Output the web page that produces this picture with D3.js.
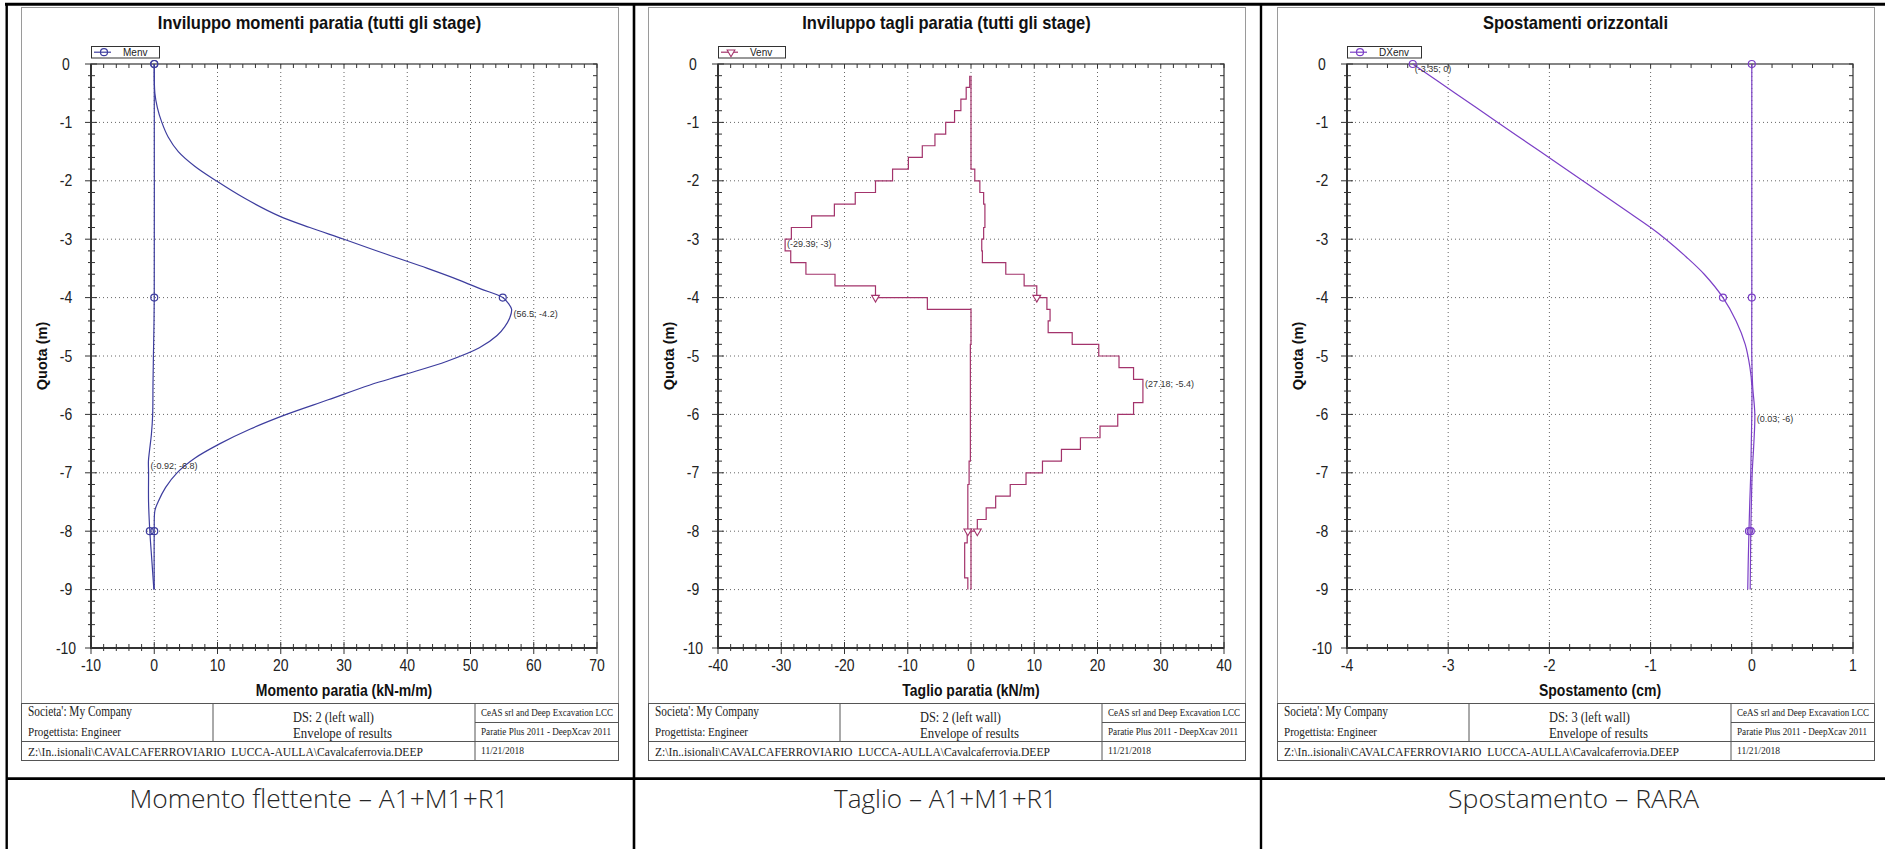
<!DOCTYPE html>
<html>
<head>
<meta charset="utf-8">
<script src="https://cdn.jsdelivr.net/npm/d3@7"></script>
<style>
    body { margin: 0; background: #fff; }
    svg { display: block; }
    .title { font: bold 16.5px "Liberation Sans", Arial, sans-serif; fill: #111; }
    .tick { font: 14px "Liberation Sans", Arial, sans-serif; fill: #222; }
    .axtitle { font: bold 14px "Liberation Sans", Arial, sans-serif; fill: #111; }
    .legend { font: 10px "Liberation Sans", Arial, sans-serif; fill: #222; }
    .dlabel { font: 9px "Liberation Sans", Arial, sans-serif; fill: #333; }
    .foot { font-family: "Liberation Serif", "Times New Roman", serif; fill: #222; }
    .caption { font-family: "Open Sans", sans-serif; font-weight: 300; font-size: 26px; fill: #262626; }
</style>
</head>
<body>
<svg id="chart" width="1885" height="849"></svg>
<script>
// momenti paratia (kN-m/m) - inviluppo max / min
const mMaxDepth = [0, -0.5, -0.75, -1.0, -1.25, -1.5, -1.75, -2.0, -2.3, -2.6, -2.8, -3.0, -3.25, -3.5, -3.7, -3.85, -4.0, -4.1, -4.2, -4.35, -4.5, -4.65, -4.86, -5.09, -5.32, -5.5, -5.75, -6.0, -6.25, -6.5, -6.75, -7.0, -7.25, -7.5, -7.65, -8.0, -9.0];
const mMaxVal = [0, 0.1, 0.5, 1.2, 2.2, 3.8, 6.4, 9.8, 14.3, 19.7, 24.6, 30.0, 36.5, 43.2, 48.2, 51.6, 55.1, 56.0, 56.5, 56.2, 55.4, 54.2, 51.4, 46.3, 39.5, 34.0, 27.5, 20.9, 15.2, 10.4, 6.4, 3.6, 1.8, 0.6, 0.1, 0, 0];
const mMinDepth = [0, -4.0, -4.5, -5.0, -5.5, -6.0, -6.34, -6.63, -6.8, -7.0, -7.5, -8.0, -8.5, -9.0];
const mMinVal = [0, 0, -0.05, -0.13, -0.2, -0.25, -0.45, -0.76, -0.92, -0.9, -0.9, -0.7, -0.38, -0.06];
const mLabels = [[56.5, -4.2], [-0.92, -6.8]];

// tagli paratia (kN/m) - valori costanti per tratti di 0.2 m
const vDepth = [-0.2, -0.4, -0.6, -0.8, -1, -1.2, -1.4, -1.6, -1.8, -2, -2.2, -2.4, -2.6, -2.8, -3, -3.2, -3.4, -3.6, -3.8, -4, -4.2, -4.4, -4.6, -4.8, -5, -5.2, -5.4, -5.6, -5.8, -6, -6.2, -6.4, -6.6, -6.8, -7, -7.2, -7.4, -7.6, -7.8, -8, -8.2, -8.4, -8.6, -8.8, -9];
const vMin = [-0.2, -0.76, -1.6, -2.6, -4.0, -5.7, -7.7, -9.9, -12.4, -15.1, -18.3, -21.6, -25.2, -28.4, -29.39, -28.5, -26.1, -21.5, -15.1, -6.9, 0, 0, 0, -0.1, -0.1, -0.1, -0.1, -0.1, -0.1, -0.1, -0.1, -0.1, -0.1, -0.3, -0.3, -0.5, -0.5, -0.5, -0.5, -0.6, -1.0, -1.0, -1.0, -0.5];
const vMax = [0, 0, 0, 0, 0, 0, 0, 0, 0.6, 1.4, 2.0, 2.2, 2.2, 2.0, 1.7, 1.8, 5.5, 8.4, 10.4, 12.0, 12.5, 12.2, 16.0, 20.2, 23.4, 25.7, 27.18, 27.18, 25.7, 23.2, 20.4, 17.3, 14.3, 11.3, 8.7, 6.2, 3.9, 2.4, 1.0, 0, 0, 0, 0, 0];
const vLabels = [[-29.39, -3], [27.18, -5.4]];

// spostamenti orizzontali (cm)
const dxADepth = [0, -0.5, -1.0, -1.5, -2.0, -2.5, -2.8, -3.0, -3.3, -3.6, -4.0, -4.4, -4.8, -5.2, -5.5, -6.0, -6.5, -7.0, -7.5, -8.0, -8.5, -9.0];
const dxAVal = [-3.35, -2.93, -2.51, -2.09, -1.67, -1.25, -1.0, -0.85, -0.65, -0.47, -0.285, -0.155, -0.065, -0.018, 0.0, 0.0, -0.005, -0.01, -0.02, -0.028, -0.035, -0.04];
const dxBDepth = [0, -4.0, -5.0, -5.5, -6.0, -6.5, -7.0, -7.5, -8.0, -8.5, -9.0];
const dxBVal = [0, 0, 0, 0.008, 0.03, 0.02, 0.004, -0.004, -0.01, -0.013, -0.016];
const dxLabels = [[-3.35, 0], [0.03, -6]];

const markerDepths = [0, -4, -8];

let svg = d3.select("#chart");
svg.append("rect").attr("width", 1885).attr("height", 849).attr("fill", "#fff");

const W = 597;                 // larghezza riquadro grafico
const PLOT_TOP = 64, PLOT_BOT = 648;
const STRETCH = 1.18;          // il grafico incollato e' leggermente allungato in verticale

// testo del cartiglio: corpo scelto sulla larghezza, poi allungato in verticale
function footText(g, x, y, str, size, len, sy) {
    return g.append("text")
        .attr("class", "foot")
        .attr("transform", "translate(" + x + "," + y + ") scale(1," + sy + ")")
        .attr("textLength", len)
        .attr("lengthAdjust", "spacingAndGlyphs")
        .style("font-size", size + "px")
        .text(str);
}

function addMarker(g, type, cx, cy, color) {
    if (type == "tri") {
        g.append("path")
            .attr("d", d3.symbol(d3.symbolTriangle, 26)())
            .attr("transform", "translate(" + cx + "," + cy + ") rotate(180)")
            .attr("fill", "#fff")
            .attr("stroke", color)
            .attr("stroke-width", 1.1);
    } else {
        g.append("circle")
            .attr("cx", cx).attr("cy", cy).attr("r", 3.5)
            .attr("fill", "none")
            .attr("stroke", color)
            .attr("stroke-width", 1.2);
    }
}

function drawPanel(p) {
    let L = p.left;
    let g = svg.append("g");

    let x = d3.scaleLinear().domain(p.xDomain).range([L + 70, L + 576]);
    let y = d3.scaleLinear().domain([0, -10]).range([PLOT_TOP, PLOT_BOT]);
    let x0 = x.range()[0], x1 = x.range()[1];

    // riquadro esterno del grafico
    g.append("rect")
        .attr("x", L + 0.5).attr("y", 7.5)
        .attr("width", W).attr("height", 753)
        .attr("fill", "#fff")
        .attr("stroke", "#9a9a9a");

    g.append("text")
        .attr("class", "title")
        .attr("transform", "translate(" + (L + W / 2) + ",29) scale(1,1.08)")
        .attr("text-anchor", "middle")
        .text(p.title);

    let xMaj = x.ticks(p.xCount), xMin = x.ticks(p.xCount * 5);
    let yMaj = y.ticks(10), yMin = y.ticks(50);

    // griglia puntinata
    g.append("g").selectAll("line")
        .data(xMaj.filter(v => v != p.xDomain[0] && v != p.xDomain[1]))
        .enter().append("line")
        .attr("x1", d => x(d)).attr("x2", d => x(d))
        .attr("y1", PLOT_TOP).attr("y2", PLOT_BOT)
        .attr("stroke", "#666").attr("stroke-dasharray", "1,3");
    g.append("g").selectAll("line")
        .data(yMaj.filter(v => v != 0 && v != -10))
        .enter().append("line")
        .attr("x1", x0).attr("x2", x1)
        .attr("y1", d => y(d)).attr("y2", d => y(d))
        .attr("stroke", "#666").attr("stroke-dasharray", "1,3");

    // bordo area dati
    g.append("rect")
        .attr("x", x0).attr("y", PLOT_TOP)
        .attr("width", x1 - x0).attr("height", PLOT_BOT - PLOT_TOP)
        .attr("fill", "none").attr("stroke", "#444").attr("stroke-width", 1.3);
    g.append("line").attr("x1", x0).attr("x2", x0).attr("y1", PLOT_TOP).attr("y2", PLOT_BOT + 1)
        .attr("stroke", "#333").attr("stroke-width", 2);
    g.append("line").attr("x1", x0 - 1).attr("x2", x1).attr("y1", PLOT_BOT).attr("y2", PLOT_BOT)
        .attr("stroke", "#333").attr("stroke-width", 2);

    // tacche
    let ticks = g.append("g").attr("stroke", "#333").attr("stroke-width", 1);
    xMin.forEach(function (v) {
        let major = xMaj.indexOf(v) >= 0;
        ticks.append("line").attr("x1", x(v)).attr("x2", x(v))
            .attr("y1", PLOT_BOT - (major ? 6 : 4)).attr("y2", PLOT_BOT + (major ? 6 : 3));
        ticks.append("line").attr("x1", x(v)).attr("x2", x(v))
            .attr("y1", PLOT_TOP).attr("y2", PLOT_TOP + 4);
    });
    yMin.forEach(function (v) {
        let major = yMaj.indexOf(v) >= 0;
        ticks.append("line").attr("y1", y(v)).attr("y2", y(v))
            .attr("x1", x0 - (major ? 6 : 3)).attr("x2", x0 + (major ? 6 : 4));
        ticks.append("line").attr("y1", y(v)).attr("y2", y(v))
            .attr("x1", x1 - 4).attr("x2", x1);
    });

    // etichette assi
    g.append("g").selectAll("text")
        .data(xMaj).enter().append("text")
        .attr("class", "tick")
        .attr("transform", d => "translate(" + x(d) + "," + (PLOT_BOT + 23) + ") scale(1," + STRETCH + ")")
        .attr("text-anchor", "middle")
        .text(d => String(d));
    g.append("g").selectAll("text")
        .data(yMaj).enter().append("text")
        .attr("class", "tick")
        .attr("transform", d => "translate(" + (L + 45) + "," + (y(d) + 5.5) + ") scale(1," + STRETCH + ")")
        .attr("text-anchor", "middle")
        .text(d => String(d));

    g.append("text")
        .attr("class", "axtitle")
        .attr("transform", "translate(" + ((x0 + x1) / 2) + ",696) scale(1,1.12)")
        .attr("text-anchor", "middle")
        .text(p.xLabel);
    g.append("text")
        .attr("class", "axtitle")
        .attr("transform", "translate(" + (L + 21) + "," + ((PLOT_TOP + PLOT_BOT) / 2) + ") rotate(-90)")
        .attr("text-anchor", "middle")
        .attr("dominant-baseline", "central")
        .style("font-size", "14.5px")
        .text("Quota (m)");

    // serie
    let line = d3.line()
        .x(d => x(d[0]))
        .y(d => y(d[1]));
    if (p.smooth) line.curve(d3.curveCatmullRom.alpha(0.5));

    let plot = g.append("g");
    p.series.forEach(function (s) {
        plot.append("path")
            .attr("d", line(s.points))
            .attr("fill", "none")
            .attr("stroke", p.color)
            .attr("stroke-width", 1.2);
    });
    p.series.forEach(function (s) {
        s.markers.forEach(function (m) {
            addMarker(plot, p.marker, x(m[0]), y(m[1]), p.color);
        });
    });

    p.labels.forEach(function (d) {
        plot.append("text")
            .attr("class", "dlabel")
            .attr("x", x(d[0]) + 2).attr("y", y(d[1]) + 8)
            .text("(" + d[0] + "; " + d[1] + ")");
    });

    // legenda
    let lg = g.append("g");
    lg.append("rect")
        .attr("x", x0 + 0.5).attr("y", 46.5)
        .attr("width", p.legendW).attr("height", 11.5)
        .attr("fill", "#fff").attr("stroke", "#333");
    lg.append("line")
        .attr("x1", x0 + 3).attr("x2", x0 + 20)
        .attr("y1", 52.2).attr("y2", 52.2)
        .attr("stroke", p.color).attr("stroke-width", 1.2);
    addMarker(lg, p.marker, x0 + 13, 52.2, p.color);
    lg.append("text")
        .attr("class", "legend")
        .attr("transform", "translate(" + (x0 + 32) + ",56) scale(1,1.05)")
        .text(p.legend);

    // cartiglio
    let ft = g.append("g");
    let fl = ft.append("g").attr("stroke", "#555").attr("stroke-width", 1);
    fl.append("line").attr("x1", L).attr("x2", L + W).attr("y1", 703.5).attr("y2", 703.5);
    fl.append("line").attr("x1", L).attr("x2", L + W).attr("y1", 741.5).attr("y2", 741.5);
    fl.append("line").attr("x1", L + 192).attr("x2", L + 192).attr("y1", 703.5).attr("y2", 741.5);
    fl.append("line").attr("x1", L + 454).attr("x2", L + 454).attr("y1", 703.5).attr("y2", 760.5);
    fl.append("line").attr("x1", L + 454).attr("x2", L + W).attr("y1", 722.5).attr("y2", 722.5);
    fl.append("rect").attr("x", L + 0.5).attr("y", 703.5).attr("width", W).attr("height", 57).attr("fill", "none");

    footText(ft, L + 7, 716, "Societa': My Company", 11.3, 104, 1.2);
    footText(ft, L + 7, 736, "Progettista: Engineer", 11.1, 93, 1.2);
    footText(ft, L + 272, 722, p.ds, 12.4, 81, 1.15);
    footText(ft, L + 272, 737.5, "Envelope of results", 12.8, 99, 1.12);
    footText(ft, L + 7, 755.5, "Z:\\In..isionali\\CAVALCAFERROVIARIO\u00a0 LUCCA-AULLA\\Cavalcaferrovia.DEEP", 11.5, 395, 1.15);
    footText(ft, L + 460, 715.5, "CeAS srl and Deep Excavation LCC", 8.8, 132, 1.2);
    footText(ft, L + 460, 734.5, "Paratie Plus 2011 - DeepXcav 2011", 9, 130, 1.2);
    footText(ft, L + 460, 753.5, "11/21/2018", 9.2, 43, 1.15);

    // didascalia
    svg.append("text")
        .attr("class", "caption")
        .attr("x", p.capX).attr("y", 808)
        .attr("text-anchor", "middle")
        .attr("textLength", p.capW)
        .attr("lengthAdjust", "spacingAndGlyphs")
        .text(p.caption);
}

function markersOf(depths, vals) {
    return markerDepths
        .filter(d => depths.indexOf(d) >= 0)
        .map(d => [vals[depths.indexOf(d)], d]);
}

function stepPoints(depths, vals) {
    // ogni valore vale sul tratto tra la quota precedente e quella corrente
    let pts = [];
    vals.forEach(function (v, k) {
        pts.push([v, depths[k]]);
        pts.push([v, depths[k + 1]]);
    });
    return pts;
}

function stepMarkers(depths, vals) {
    return markerDepths
        .filter(d => depths.indexOf(d) > 0)
        .map(d => [vals[depths.indexOf(d) - 1], d]);
}

drawPanel({
    left: 21,
    title: "Inviluppo momenti paratia (tutti gli stage)",
    xDomain: [-10, 70], xCount: 8,
    xLabel: "Momento paratia (kN-m/m)",
    color: "#3d3d9e", marker: "circle", smooth: true,
    legend: "Menv", legendW: 68,
    series: [
        { points: d3.zip(mMaxVal, mMaxDepth), markers: markersOf(mMaxDepth, mMaxVal) },
        { points: d3.zip(mMinVal, mMinDepth), markers: markersOf(mMinDepth, mMinVal) }
    ],
    labels: mLabels,
    ds: "DS: 2 (left wall)",
    caption: "Momento flettente \u2013 A1+M1+R1", capX: 319, capW: 379
});

drawPanel({
    left: 648,
    title: "Inviluppo tagli paratia (tutti gli stage)",
    xDomain: [-40, 40], xCount: 8,
    xLabel: "Taglio paratia (kN/m)",
    color: "#a3336b", marker: "tri", smooth: false,
    legend: "Venv", legendW: 67,
    series: [
        { points: stepPoints(vDepth, vMin), markers: stepMarkers(vDepth, vMin) },
        { points: stepPoints(vDepth, vMax), markers: stepMarkers(vDepth, vMax) }
    ],
    labels: vLabels,
    ds: "DS: 2 (left wall)",
    caption: "Taglio \u2013 A1+M1+R1", capX: 945.5, capW: 223
});

drawPanel({
    left: 1277,
    title: "Spostamenti orizzontali",
    xDomain: [-4, 1], xCount: 5,
    xLabel: "Spostamento (cm)",
    color: "#7b3fc6", marker: "circle", smooth: true,
    legend: "DXenv", legendW: 74,
    series: [
        { points: d3.zip(dxAVal, dxADepth), markers: markersOf(dxADepth, dxAVal) },
        { points: d3.zip(dxBVal, dxBDepth), markers: markersOf(dxBDepth, dxBVal) }
    ],
    labels: dxLabels,
    ds: "DS: 3 (left wall)",
    caption: "Spostamento \u2013 RARA", capX: 1573.5, capW: 251
});

// tabella esterna
let tb = svg.append("g").attr("stroke", "#000");
tb.append("line").attr("x1", 5).attr("x2", 1885).attr("y1", 4.2).attr("y2", 4.2).attr("stroke-width", 3);
tb.append("line").attr("x1", 6.7).attr("x2", 6.7).attr("y1", 3).attr("y2", 849).attr("stroke-width", 2.4);
tb.append("line").attr("x1", 634).attr("x2", 634).attr("y1", 3).attr("y2", 849).attr("stroke-width", 2.6);
tb.append("line").attr("x1", 1261).attr("x2", 1261).attr("y1", 3).attr("y2", 849).attr("stroke-width", 2.4);
tb.append("line").attr("x1", 6).attr("x2", 1885).attr("y1", 778.7).attr("y2", 778.7).attr("stroke-width", 2.7);
</script>
</body>
</html>
